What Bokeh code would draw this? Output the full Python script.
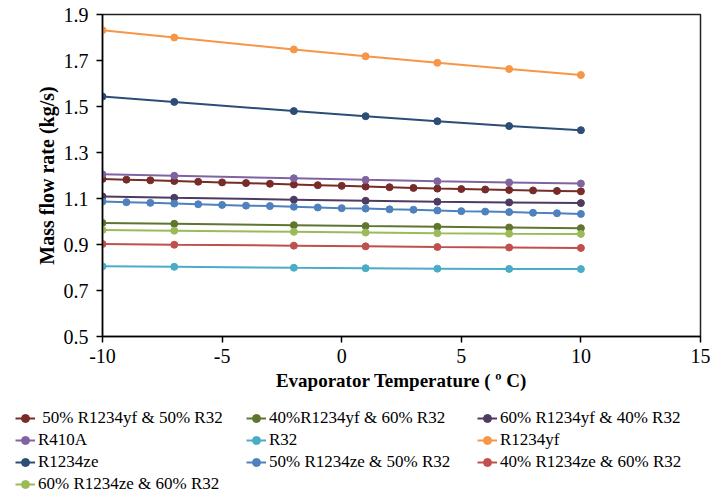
from bokeh.plotting import figure
from bokeh.models import Range1d, Legend, LegendItem, FixedTicker, CustomJSTickFormatter
from bokeh.embed import file_html
from bokeh.resources import INLINE

FONT = "Liberation Serif"

# Evaporator temperature (deg C)
t_sparse = [-10, -7, -2, 1, 4, 7, 10]
t_dense = [-10, -9, -8, -7, -6, -5, -4, -3, -2, -1, 0, 1, 2, 3, 4, 5, 6, 7, 8, 9, 10]

# Mass flow rate (kg/s)
yf50_r32_50 = [1.185, 1.182, 1.179, 1.176, 1.173, 1.170, 1.167, 1.164, 1.161, 1.158, 1.155,
               1.152, 1.149, 1.146, 1.143, 1.141, 1.139, 1.137, 1.135, 1.133, 1.131]
yf40_r32_60 = [0.994, 0.990, 0.984, 0.980, 0.977, 0.974, 0.971]
yf60_r32_40 = [1.109, 1.103, 1.095, 1.090, 1.086, 1.083, 1.080]
r410a = [1.205, 1.199, 1.188, 1.181, 1.175, 1.170, 1.165]
r32 = [0.805, 0.803, 0.799, 0.797, 0.795, 0.794, 0.793]
r1234yf = [1.832, 1.800, 1.748, 1.718, 1.690, 1.663, 1.637]
r1234ze = [1.543, 1.520, 1.480, 1.458, 1.436, 1.415, 1.397]
ze50_r32_50 = [1.087, 1.084, 1.081, 1.078, 1.075, 1.072, 1.069, 1.067, 1.064, 1.061, 1.058,
               1.056, 1.053, 1.051, 1.048, 1.045, 1.043, 1.041, 1.038, 1.036, 1.033]
ze40_r32_60 = [0.902, 0.899, 0.895, 0.892, 0.889, 0.887, 0.885]
ze60_r32_60 = [0.963, 0.960, 0.955, 0.952, 0.949, 0.947, 0.946]

names = [" 50% R1234yf & 50% R32", "40%R1234yf & 60% R32", "60% R1234yf & 40% R32",
         "R410A", "R32", "R1234yf",
         "R1234ze", "50% R1234ze & 50% R32", "40% R1234ze & 60% R32",
         "60% R1234ze & 60% R32"]
xs = [t_dense, t_sparse, t_sparse, t_sparse, t_sparse, t_sparse, t_sparse, t_dense, t_sparse, t_sparse]
ys = [yf50_r32_50, yf40_r32_60, yf60_r32_40, r410a, r32, r1234yf, r1234ze, ze50_r32_50,
      ze40_r32_60, ze60_r32_60]
colors = ["#772C2A", "#5F7530", "#4D3B62", "#8064A2", "#4BACC6", "#F79646",
          "#2C4D75", "#4F81BD", "#C0504D", "#9BBB59"]

x_ticks = [-10, -5, 0, 5, 10, 15]
y_ticks = [0.5, 0.7, 0.9, 1.1, 1.3, 1.5, 1.7, 1.9]

# ---- main chart ----
p = figure(width=714, height=405, x_range=Range1d(-10, 15), y_range=Range1d(0.5, 1.9),
           output_backend="svg", toolbar_location=None,
           min_border_left=102, min_border_right=14, min_border_top=14, min_border_bottom=69)

p.xgrid.visible = False
p.ygrid.visible = False
p.outline_line_color = "#222222"
p.outline_line_width = 1.5
p.background_fill_color = "white"
p.border_fill_color = "white"

p.xaxis.ticker = FixedTicker(ticks=x_ticks)
p.yaxis.ticker = FixedTicker(ticks=y_ticks)
p.xaxis.formatter = CustomJSTickFormatter(code="return tick.toString();")
for ax in (p.xaxis[0], p.yaxis[0]):
    ax.axis_line_color = "black"
    ax.axis_line_width = 1.5
    ax.major_tick_line_color = "black"
    ax.major_tick_line_width = 1.5
    ax.major_tick_out = 6
    ax.major_tick_in = 0
    ax.minor_tick_line_color = None
    ax.major_label_text_font = FONT
    ax.major_label_text_font_size = "20px"
    ax.major_label_text_color = "black"
    ax.axis_label_text_font = FONT
    ax.axis_label_text_font_style = "bold"
    ax.axis_label_text_color = "black"

p.xaxis.axis_label = "Evaporator Temperature ( \u00ba C)"
p.yaxis.axis_label = "Mass flow rate (kg/s)"
p.xaxis.axis_label_text_font_size = "19px"
p.yaxis.axis_label_text_font_size = "20px"
p.xaxis.major_label_standoff = 6
p.xaxis.axis_label_standoff = 4
p.yaxis.major_label_standoff = 8
p.yaxis.axis_label_standoff = 3

for x, y, c in zip(xs, ys, colors):
    p.line(x, y, line_color=c, line_width=2)
    p.scatter(x, y, size=7, fill_color=c, line_color=c)

# ---- legend strip below the chart (separate root, no frame alignment) ----
lf = figure(width=714, height=90, x_range=Range1d(-10, 15), y_range=Range1d(0.5, 1.9),
            output_backend="svg", toolbar_location=None,
            x_axis_type=None, y_axis_type=None, min_border=0,
            min_border_left=0, min_border_right=0, min_border_top=0, min_border_bottom=0)
lf.outline_line_color = None
lf.xgrid.visible = False
lf.ygrid.visible = False
lf.background_fill_color = "white"
lf.border_fill_color = "white"

items = []
for name, x, y, c in zip(names, xs, ys, colors):
    r1 = lf.line(x, y, line_color=c, line_width=2, visible=False)
    r2 = lf.scatter(x, y, size=7, fill_color=c, line_color=c, visible=False)
    items.append(LegendItem(label=name, renderers=[r1, r2]))

legend = Legend(items=items, orientation="horizontal", ncols=3,
                location=(15, 1),
                glyph_width=20, glyph_height=20, label_height=20, label_width=206,
                label_standoff=3, spacing=2, padding=0, margin=0,
                label_text_font=FONT, label_text_font_size="17px", label_text_color="black",
                border_line_color=None, background_fill_alpha=0)
lf.add_layout(legend, "center")

open("out.html", "w").write(file_html([p, lf], INLINE))
